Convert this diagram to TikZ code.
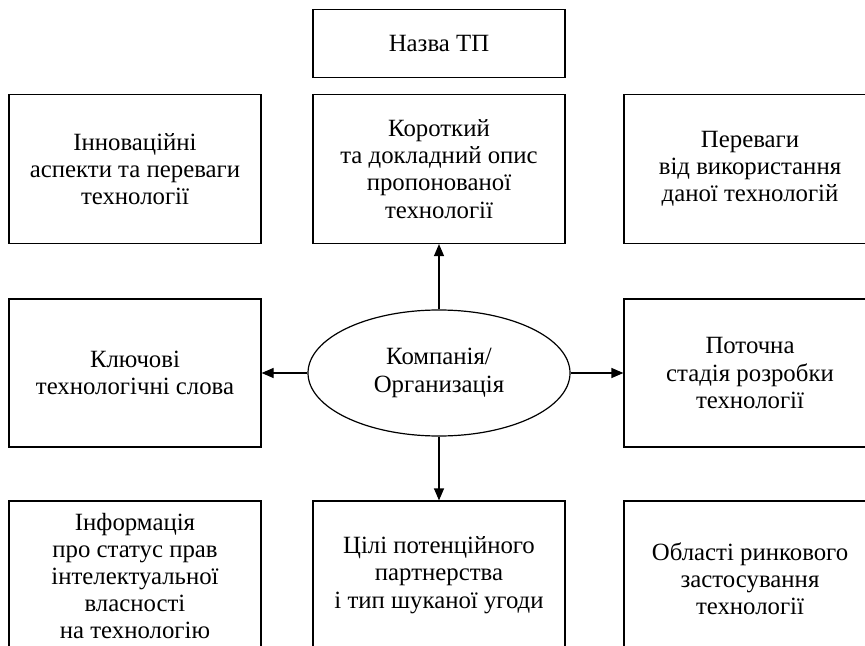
\documentclass[tikz,border=0pt]{standalone}
\usepackage{fontspec}
\setmainfont{Liberation Serif}
\usepackage{tikz}
\usetikzlibrary{arrows.meta}
\usetikzlibrary{shapes.geometric}

\begin{document}
\begin{tikzpicture}[x=0.5pt,y=-0.5pt,->,>={Triangle[length=6pt,width=5pt]},line width=0.6pt,
	font=\fontsize{12.4}{13.6}\selectfont]
						\tikzstyle{blk}=[draw, rectangle, align=center, inner sep=0pt, minimum width=126pt, minimum height=74.5pt]
						\tikzstyle{oval}=[draw, ellipse, align=center, inner sep=0pt, minimum width=131pt, minimum height=63pt]
						\clip (0,0) rectangle (865,646);
						\node[blk, minimum height=34pt] (name)   at (439,43.5) {Назва ТП};
						\node[blk] (innov)  at (135,169) {Інноваційні\\аспекти та переваги\\технології};
						\node[blk] (descr)  at (439,169) {Короткий\\та докладний опис\\пропонованої\\технології};
						\node[blk] (gain)   at (750,169) {Переваги\\від використання\\даної технологій};
						\node[oval] (comp)  at (439,373) {Компанія/\\Организація};
						\node[blk, minimum height=74pt] (keys)   at (135,373) {Ключові\\технологічні слова};
						\node[blk, minimum height=74pt] (stage)  at (750,373) {Поточна\\стадія розробки\\технології};
						\node[blk, minimum height=100pt] (ipr)   at (135,601) {};
						\node[blk, minimum height=100pt] (goal)  at (439,601) {};
						\node[blk, minimum height=100pt] (market) at (750,601) {};
						% bottom texts sit higher than the box centre (boxes run off the page)
						\node[align=center] (iprt)    at (135,576) {Інформація\\про статус прав\\інтелектуальної\\власності\\на технологію};
						\node[align=center] (goalt)   at (439,575) {Цілі потенційного\\партнерства\\і тип шуканої угоди};
						\node[align=center] (markett) at (750,579) {Області ринкового\\застосування\\технології};

						\path
							(comp) edge (descr)
							(comp) edge (keys)
							(comp) edge (stage)
							(comp) edge (goal);
				\end{tikzpicture}
\end{document}
